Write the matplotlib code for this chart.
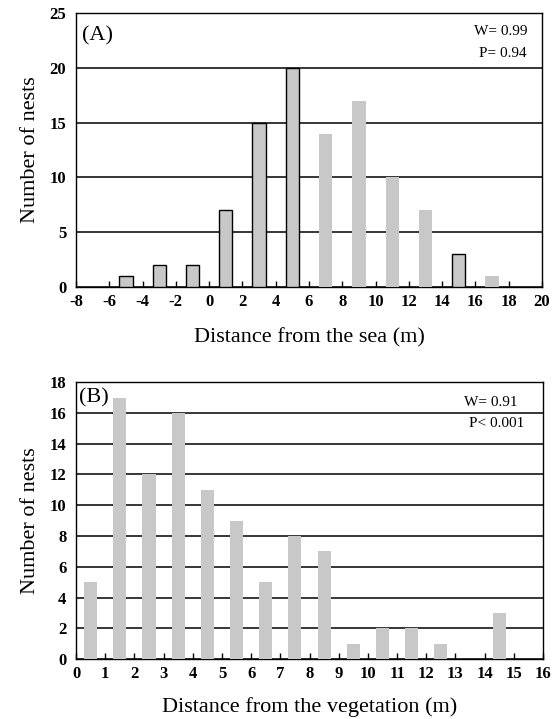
import matplotlib
matplotlib.use("Agg")
import matplotlib.pyplot as plt

plt.rcParams['font.family'] = ['Liberation Serif', 'DejaVu Serif']
plt.rcParams['axes.unicode_minus'] = False

# Panel A: distance from the sea
sea_x = [-5, -3, -1, 1, 3, 5, 7, 9, 11, 13, 15, 17]
sea_n = [1, 2, 2, 7, 15, 20, 14, 17, 10, 7, 3, 1]
sea_edged = [True, True, True, True, True, True, False, False, False, False, True, False]

# Panel B: distance from the vegetation
veg_x = [0.5, 1.5, 2.5, 3.5, 4.5, 5.5, 6.5, 7.5, 8.5, 9.5, 10.5, 11.5, 12.5, 13.5, 14.5]
veg_n = [5, 17, 12, 16, 11, 9, 5, 8, 7, 1, 2, 2, 1, 0, 3]

bar_color = '#c8c8c8'

fig = plt.figure(figsize=(5.56, 7.19), dpi=100)
ax1 = fig.add_axes([0.1367, 0.6008, 0.838, 0.381])
ax2 = fig.add_axes([0.1367, 0.0834, 0.84, 0.385])

def style(ax):
    ax.set_axisbelow(True)
    ax.yaxis.grid(True, color='black', linewidth=1.1)
    ax.tick_params(axis='x', direction='in', length=4, width=1, pad=5, labelsize=12)
    ax.tick_params(axis='y', length=0, pad=7, labelsize=12)
    for lab in ax.get_xticklabels() + ax.get_yticklabels():
        lab.set_fontweight('bold')
    for sp in ax.spines.values():
        sp.set_linewidth(1.0)

# --- (A)
for x, n, e in zip(sea_x, sea_n, sea_edged):
    ax1.bar(x, n, width=0.8, color=bar_color,
            edgecolor='black' if e else bar_color, linewidth=1.0 if e else 0, zorder=3)
ax1.set_xlim(-8, 20)
ax1.set_ylim(0, 25)
ax1.set_xticks(range(-8, 21, 2))
ax1.set_yticks(range(0, 26, 5))
style(ax1)
ax1.set_ylabel('Number of nests', fontsize=16, labelpad=7)
ax1.set_xlabel('Distance from the sea (m)', fontsize=16, labelpad=13)
ax1.text(0.013, 0.916, '(A)', transform=ax1.transAxes, fontsize=16, va='center', ha='left')
ax1.text(0.968, 0.931, 'W= 0.99', transform=ax1.transAxes, fontsize=11, va='center', ha='right')
ax1.text(0.968, 0.854, 'P= 0.94', transform=ax1.transAxes, fontsize=11, va='center', ha='right')

# --- (B)
ax2.bar(veg_x, veg_n, width=0.45, color=bar_color, edgecolor='none', zorder=3)
ax2.set_xlim(0, 16)
ax2.set_ylim(0, 18)
ax2.set_xticks(range(0, 17))
ax2.set_yticks(range(0, 19, 2))
style(ax2)
ax2.set_ylabel('Number of nests', fontsize=16, labelpad=7)
ax2.set_xlabel('Distance from the vegetation (m)', fontsize=16, labelpad=11)
ax2.text(0.006, 0.942, '(B)', transform=ax2.transAxes, fontsize=16, va='center', ha='left')
ax2.text(0.946, 0.928, 'W= 0.91', transform=ax2.transAxes, fontsize=11, va='center', ha='right')
ax2.text(0.959, 0.852, 'P< 0.001', transform=ax2.transAxes, fontsize=11, va='center', ha='right')

fig.savefig('out.png', dpi=100)
